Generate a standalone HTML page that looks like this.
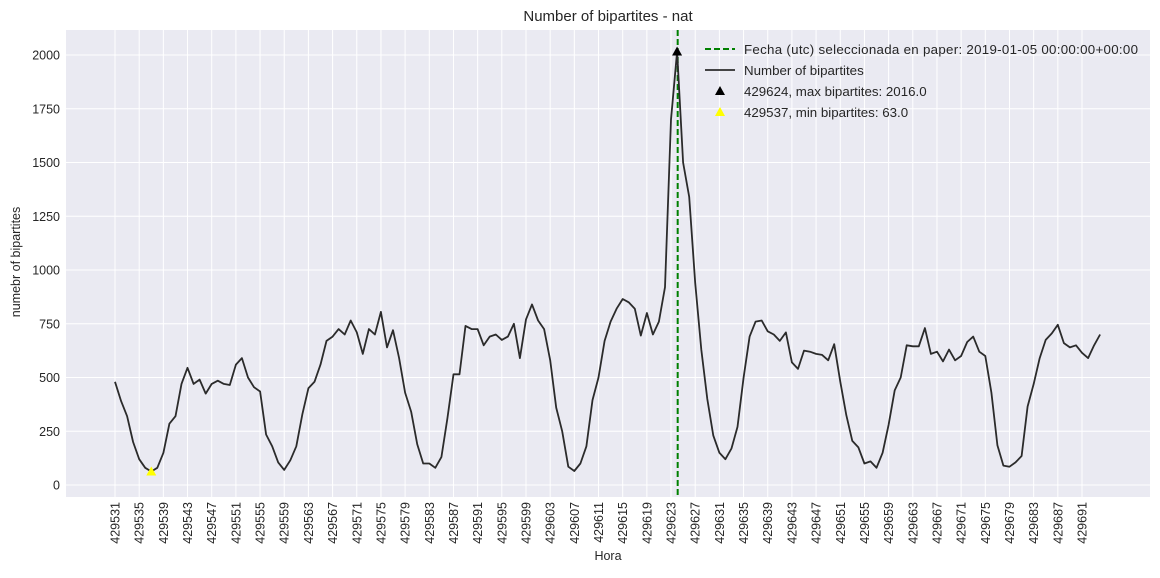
<!DOCTYPE html>
<html><head><meta charset="utf-8"><style>
body{margin:0;background:#fff;font-family:"Liberation Sans","DejaVu Sans",sans-serif}
</style></head><body>
<svg id="chart" width="1160" height="573" xmlns="http://www.w3.org/2000/svg" font-family="Liberation Sans, DejaVu Sans, sans-serif">
</svg>
<script>
const startHour = 429531;
const values = [480,390,320,200,120,80,63,80,150,285,320,470,545,470,490,425,470,485,470,465,560,590,500,455,435,235,180,105,70,115,180,330,450,480,560,670,690,725,700,765,710,610,725,700,805,640,720,590,430,340,190,100,100,80,130,310,515,515,740,725,725,650,690,700,675,690,750,590,770,840,765,725,580,360,250,85,65,100,180,395,500,670,760,820,865,850,820,695,800,700,760,920,1700,2016,1500,1340,940,630,400,230,150,120,170,270,500,690,760,765,715,700,670,710,570,540,625,620,610,605,580,655,480,325,205,175,100,110,80,150,280,440,500,650,645,645,730,610,620,575,630,580,600,665,690,620,600,430,185,90,85,105,135,365,470,590,675,705,745,660,640,650,615,590,650,700];
const xTicks = [];
for (let t = 429531; t <= 429691; t += 4) xTicks.push(t);
const yTicks = [0,250,500,750,1000,1250,1500,1750,2000];
const maxPoint = [429624, 2016];
const minPoint = [429537, 63];
const markerHour = 429624.1;
const legendLabels = ["Fecha (utc) seleccionada en paper: 2019-01-05 00:00:00+00:00","Number of bipartites","429624, max bipartites: 2016.0","429537, min bipartites: 63.0"];

const L=66,R=1150,T=30,B=497;
const xMin=429522.89,xMax=429702.25;
const X=v=>L+(v-xMin)/(xMax-xMin)*(R-L);
const Y=v=>485-v*0.215;
const svg=document.getElementById('chart');
const NS='http://www.w3.org/2000/svg';
function mk(tag,attrs,parent){const e=document.createElementNS(NS,tag);for(const k in attrs)e.setAttribute(k,attrs[k]);(parent||svg).appendChild(e);return e;}

const bg=mk('rect',{x:L,y:T,width:R-L,height:B-T,fill:'#eaeaf2'});



const grid=mk('g',{stroke:'#fff','stroke-width':1});


xTicks.forEach(t=>{
  mk('line',{x1:X(t),x2:X(t),y1:T,y2:B},grid);
  const tx=mk('text',{x:0,y:0,'font-size':12.5,fill:'#262626','text-anchor':'end',transform:`translate(${X(t)+4.5},${B+5}) rotate(-90)`});
  tx.textContent=t;
  
  
});
yTicks.forEach(t=>{
  mk('line',{x1:L,x2:R,y1:Y(t),y2:Y(t)},grid);
  const tx=mk('text',{x:L-6,y:Y(t)+4.5,'font-size':12.5,fill:'#262626','text-anchor':'end'});
  tx.textContent=t;
  
  
});

const vline=mk('line',{x1:X(markerHour),x2:X(markerHour),y1:T,y2:B,stroke:'#008000','stroke-width':2,'stroke-dasharray':'6,3'});



const pts=values.map((v,i)=>X(startHour+i).toFixed(1)+','+Y(v).toFixed(1)).join(' ');
const line=mk('polyline',{points:pts,fill:'none',stroke:'#2b2b2b','stroke-width':1.8,'stroke-linejoin':'round'});



function tri(cx,cy,color){return mk('polygon',{points:`${cx},${cy-5} ${cx-5},${cy+4} ${cx+5},${cy+4}`,fill:color});}
const mx=tri(X(maxPoint[0]),Y(maxPoint[1]),'#000');


const mn=tri(X(minPoint[0]),Y(minPoint[1]),'#ffff00');



const lg=mk('g',{});


const ly=[49,70,91,112];
mk('line',{x1:705,x2:735,y1:ly[0],y2:ly[0],stroke:'#008000','stroke-width':2,'stroke-dasharray':'6,3'},lg);
mk('line',{x1:705,x2:735,y1:ly[1],y2:ly[1],stroke:'#2b2b2b','stroke-width':1.8},lg);
mk('polygon',{points:`720,${ly[2]-5} 715,${ly[2]+4} 725,${ly[2]+4}`,fill:'#000'},lg);
mk('polygon',{points:`720,${ly[3]-5} 715,${ly[3]+4} 725,${ly[3]+4}`,fill:'#ffff00'},lg);
legendLabels.forEach((s,i)=>{
  const t=mk('text',{x:744,y:ly[i]+5,'font-size':13.3,fill:'#262626',textLength:i==0?394:null},lg);
  if(i!=0)t.removeAttribute('textLength');
  t.textContent=s;
  
  
});

const title=mk('text',{x:608,y:21,'font-size':15,fill:'#262626','text-anchor':'middle'});
title.textContent='Number of bipartites - nat';


const xl=mk('text',{x:608,y:560,'font-size':12.5,fill:'#262626','text-anchor':'middle'});
xl.textContent='Hora';


const yl=mk('text',{x:0,y:0,'font-size':12.5,fill:'#262626','text-anchor':'middle',transform:'translate(20,262) rotate(-90)'});
yl.textContent='numebr of bipartites';


</script>
</body></html>
